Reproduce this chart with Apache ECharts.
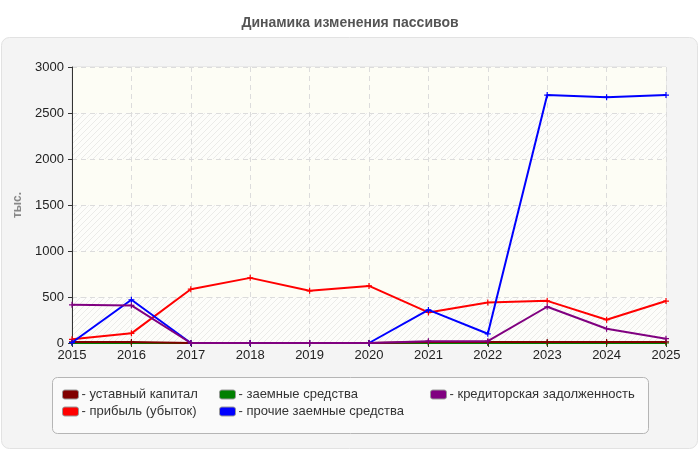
<!DOCTYPE html>
<html>
<head>
<meta charset="utf-8">
<script src="https://cdn.jsdelivr.net/npm/echarts@6/dist/echarts.min.js"></script>
<style>
  html, body { margin: 0; padding: 0; background: #fff; }
  #chart { width: 700px; height: 450px; }
</style>
</head>
<body>
<div id="chart"></div>
<script>
var years = ['2015', '2016', '2017', '2018', '2019', '2020', '2021', '2022', '2023', '2024', '2025'];
var seriesNames = ['уставный капитал', 'прибыль (убыток)', 'заемные средства', 'прочие заемные средства', 'кредиторская задолженность'];
var seriesColors = ['#800000', '#ff0000', '#008000', '#0000ff', '#800080'];

var capital = [12, 12, 0, 0, 0, 0, 12, 12, 12, 12, 12];
var profit = [40, 105, 585, 708, 567, 620, 332, 440, 458, 253, 456];
var loans = [0, 0, 0, 0, 0, 0, 0, 0, 0, 0, 0];
var otherLoans = [5, 470, 0, 0, 0, 0, 360, 100, 2695, 2672, 2695];
var payables = [415, 408, 0, 0, 0, 0, 20, 20, 394, 155, 47];

var seriesData = [capital, profit, loans, otherLoans, payables];
// green line sits under everything else
var seriesZ = [3, 4, 2, 5, 6];

function hatch() {
    var c = document.createElement('canvas');
    c.width = 6; c.height = 6;
    var ctx = c.getContext('2d');
    ctx.fillStyle = '#fdfdfa';
    ctx.fillRect(0, 0, 6, 6);
    ctx.strokeStyle = '#ebebe8';
    ctx.lineWidth = 1;
    ctx.beginPath();
    ctx.moveTo(-1, 7); ctx.lineTo(7, -1);
    ctx.moveTo(-4, 4); ctx.lineTo(4, -4);
    ctx.moveTo(2, 10); ctx.lineTo(10, 2);
    ctx.stroke();
    return { image: c, repeat: 'repeat' };
}

var myChart = echarts.init(document.getElementById('chart'));

var plus = 'path://M2,0H3V2H5V3H3V5H2V3H0V2H2Z';

var series = [];
for (var i = 0; i < seriesNames.length; i++) {
    series.push({
        name: seriesNames[i],
        type: 'line',
        data: seriesData[i],
        z: seriesZ[i],
        symbol: plus,
        symbolSize: 6,
        lineStyle: { width: 2, color: seriesColors[i] },
        itemStyle: { color: seriesColors[i] },
        animation: false
    });
}

function legendAt(left, names) {
    return {
        orient: 'vertical',
        left: left,
        top: 387,
        itemGap: 2,
        itemWidth: 16,
        itemHeight: 9,
        icon: 'roundRect',
        data: names,
        formatter: '- {name}',
        itemStyle: { borderColor: '#999', borderWidth: 1 },
        textStyle: { color: '#333', fontSize: 13, lineHeight: 15, fontFamily: 'Liberation Sans', padding: [0, 0, 0, -2] },
        padding: 0,
        selectedMode: false
    };
}

var option = {
    backgroundColor: '#fff',
    textStyle: { fontFamily: 'Liberation Sans' },
    title: {
        text: 'Динамика изменения пассивов',
        left: 'center',
        top: 11,
        textStyle: { fontSize: 14, fontWeight: 'bold', color: '#555', fontFamily: 'Liberation Sans' }
    },
    graphic: [
        {
            type: 'rect', z: -10,
            shape: { x: 1.5, y: 37.5, width: 696, height: 411, r: 8 },
            style: { fill: '#f4f4f4', stroke: '#e2e2e2', lineWidth: 1 }
        },
        {
            type: 'rect', z: -5,
            shape: { x: 52.5, y: 377.5, width: 596, height: 56, r: 5 },
            style: { fill: '#fafafa', stroke: '#b5b5b5', lineWidth: 1 }
        }
    ],
    legend: [
        legendAt(62, [seriesNames[0], seriesNames[1]]),
        legendAt(219, [seriesNames[2], seriesNames[3]]),
        legendAt(430, [seriesNames[4]])
    ],
    grid: {
        left: 72,
        right: 34,
        top: 67,
        bottom: 107,
        show: true,
        borderColor: '#dddddd',
        borderWidth: 1,
        backgroundColor: 'transparent'
    },
    xAxis: {
        type: 'category',
        boundaryGap: false,
        data: years,
        axisLine: { lineStyle: { color: '#333', width: 1 } },
        axisTick: { show: true, length: 4, lineStyle: { color: '#333' } },
        axisLabel: { color: '#222', fontSize: 13, margin: 6 },
        splitLine: { show: true, lineStyle: { color: '#dcdcdc', type: [5, 4] } }
    },
    yAxis: {
        type: 'value',
        min: 0,
        max: 3000,
        interval: 500,
        name: 'тыс.',
        nameLocation: 'middle',
        nameGap: 47,
        nameRotate: 90,
        nameTextStyle: { color: '#888', fontSize: 12, fontWeight: 'bold' },
        axisLine: { show: true, lineStyle: { color: '#333', width: 1 } },
        axisTick: { show: true, length: 4, lineStyle: { color: '#333' } },
        axisLabel: {
            color: '#222', fontSize: 13, margin: 8,
            formatter: function (v) { return String(v); }
        },
        splitLine: { show: true, lineStyle: { color: '#dcdcdc', type: [5, 4] } },
        splitArea: { show: true, areaStyle: { color: [hatch(), '#fdfdf5'] } }
    },
    series: series
};

myChart.setOption(option);
</script>
</body>
</html>
